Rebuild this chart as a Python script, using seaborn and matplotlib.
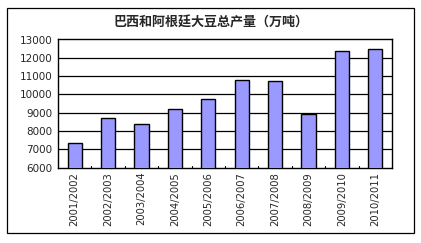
import matplotlib
matplotlib.use("Agg")
import matplotlib.pyplot as plt
import seaborn as sns
import pandas as pd
from matplotlib.patches import Rectangle

seasons = ["2001/2002", "2002/2003", "2003/2004", "2004/2005", "2005/2006",
           "2006/2007", "2007/2008", "2008/2009", "2009/2010", "2010/2011"]
output = [7350, 8700, 8370, 9190, 9740, 10780, 10720, 8950, 12390, 12470]
yticks = [6000, 7000, 8000, 9000, 10000, 11000, 12000, 13000]
title = "巴西和阿根廷大豆总产量（万吨）"

sns.set_theme(style="white")
plt.rcParams['font.family'] = ['Noto Sans CJK SC', 'DejaVu Sans']

W, H = 421, 243
fig = plt.figure(figsize=(W / 100, H / 100), dpi=100)
fig.patch.set_facecolor("white")

# outer chart border
fig.patches.append(Rectangle((7 / W, 1 - 233 / H), (414 - 7) / W, (233 - 8) / H,
                             transform=fig.transFigure, fill=False,
                             edgecolor="black", linewidth=0.9))

ax = fig.add_axes([58 / W, 1 - 167.7 / H, (392 - 58) / W, (167.7 - 39.5) / H])
df = pd.DataFrame({"season": seasons, "output": output})
sns.barplot(data=df, x="season", y="output", ax=ax, color="#9999FF",
            saturation=1, edgecolor="black", linewidth=1.0, width=0.42, zorder=3)

ax.set_ylim(6000, 13000)
ax.set_yticks(yticks)
ax.set_yticklabels([str(v) for v in yticks], fontsize=7.5, family=['DejaVu Sans'])
for v in yticks[1:-1]:
    ax.axhline(v, color="black", linewidth=0.9, zorder=1)
ax.set_xlim(-0.5, len(seasons) - 0.5)
ax.set_xticks(range(len(seasons)))
ax.set_xticklabels(seasons, rotation=90, fontsize=7.2, family=['DejaVu Sans'])
ax.tick_params(axis="x", length=0, pad=3)
ax.tick_params(axis="y", length=0, pad=4)
# inward boundary ticks on x-axis
for b in range(1, len(seasons)):
    ax.plot([b - 0.5, b - 0.5], [6000, 6080], color="black", linewidth=0.8,
            zorder=2, clip_on=False)
ax.set_xlabel("")
ax.set_ylabel("")
for s in ax.spines.values():
    s.set_visible(True)
    s.set_color("black")
    s.set_linewidth(1.0)

fig.text(211 / W, 1 - 23 / H, title, ha="center", va="center",
         fontsize=9.4, fontweight="heavy")

fig.savefig("out.png", dpi=100)
